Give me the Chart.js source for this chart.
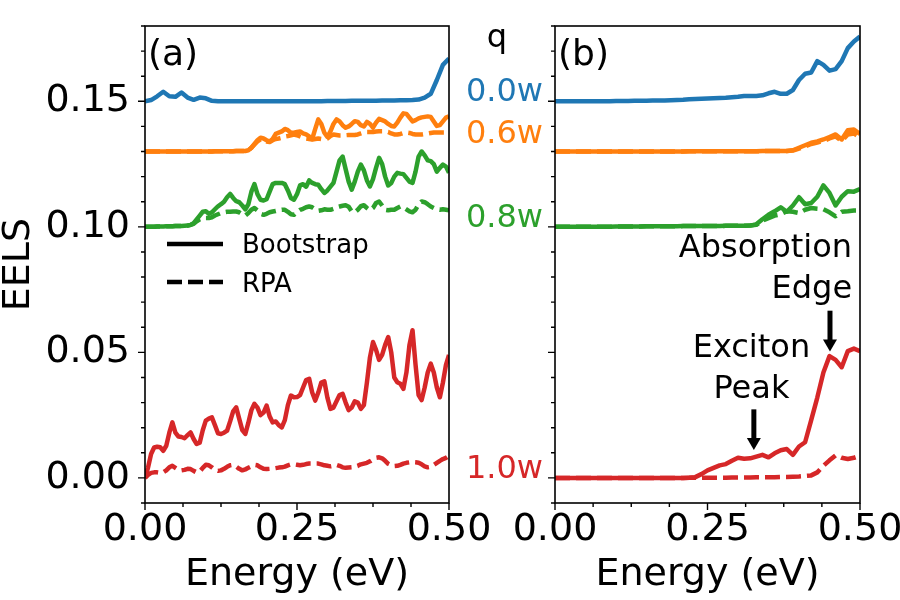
<!DOCTYPE html>
<html>
<head>
<meta charset="utf-8">
<script src="https://cdn.jsdelivr.net/npm/chart.js@4.4.1/dist/chart.umd.min.js"></script>
<style>
  body { margin: 0; background: #fff; }
  #boxA { position: absolute; left: 0; top: 0; }
  #boxB { position: absolute; left: 450px; top: 0; }
</style>
</head>
<body>
<div id="boxA"><canvas id="chartA" width="500" height="600"></canvas></div>
<div id="boxB"><canvas id="chartB" width="450" height="600"></canvas></div>
<script>
// energy grids (eV)
const energyFine = [
  0,0.005,0.01,0.015,0.02,0.025,0.03,0.035,0.04,0.045,
  0.05,0.055,0.06,0.065,0.07,0.075,0.08,0.085,0.09,0.095,
  0.1,0.105,0.11,0.115,0.12,0.125,0.13,0.135,0.14,0.145,
  0.15,0.155,0.16,0.165,0.17,0.175,0.18,0.185,0.19,0.195,
  0.2,0.205,0.21,0.215,0.22,0.225,0.23,0.235,0.24,0.245,
  0.25,0.255,0.26,0.265,0.27,0.275,0.28,0.285,0.29,0.295,
  0.3,0.305,0.31,0.315,0.32,0.325,0.33,0.335,0.34,0.345,
  0.35,0.355,0.36,0.365,0.37,0.375,0.38,0.385,0.39,0.395,
  0.4,0.405,0.41,0.415,0.42,0.425,0.43,0.435,0.44,0.445,
  0.45,0.455,0.46,0.465,0.47,0.475,0.48,0.485,0.49,0.495,
  0.5];
const energyCoarse = [
  0,0.01,0.02,0.03,0.04,0.05,0.06,0.07,0.08,0.09,
  0.1,0.11,0.12,0.13,0.14,0.15,0.16,0.17,0.18,0.19,
  0.2,0.21,0.22,0.23,0.24,0.25,0.26,0.27,0.28,0.29,
  0.3,0.31,0.32,0.33,0.34,0.35,0.36,0.37,0.38,0.39,
  0.4,0.41,0.42,0.43,0.44,0.45,0.46,0.47,0.48,0.49,
  0.5];

// panel (a): EELS with offsets, q = 0.0w .. 1.0w
const blueA = [
  0.1500,0.1505,0.1520,0.1538,0.1520,0.1518,0.1535,0.1515,0.1506,0.1515,
  0.1512,0.1502,0.1500,0.1500,0.1500,0.1500,0.1500,0.1500,0.1500,0.1500,
  0.1500,0.1500,0.1500,0.1500,0.1500,0.1500,0.1500,0.1500,0.1500,0.1500,
  0.1501,0.1501,0.1501,0.1501,0.1502,0.1502,0.1502,0.1502,0.1502,0.1503,
  0.1503,0.1503,0.1504,0.1504,0.1505,0.1507,0.1515,0.1530,0.1585,0.1645,
  0.1670];
const orangeBootA = [
  0.1300,0.1300,0.1300,0.1300,0.1300,0.1300,0.1300,0.1300,0.1300,0.1300,
  0.1300,0.1300,0.1300,0.1300,0.1300,0.1300,0.1300,0.1300,0.1300,0.1300,
  0.1300,0.1300,0.1300,0.1301,0.1301,0.1301,0.1301,0.1301,0.1301,0.1301,
  0.1302,0.1302,0.1302,0.1302,0.1305,0.1315,0.1330,0.1345,0.1355,0.1352,
  0.1345,0.1340,0.1350,0.1370,0.1375,0.1380,0.1390,0.1385,0.1375,0.1375,
  0.1378,0.1380,0.1372,0.1368,0.1360,0.1350,0.1390,0.1428,0.1410,0.1375,
  0.1358,0.1380,0.1410,0.1428,0.1420,0.1405,0.1395,0.1400,0.1410,0.1421,
  0.1418,0.1405,0.1400,0.1418,0.1410,0.1395,0.1415,0.1430,0.1425,0.1420,
  0.1410,0.1402,0.1400,0.1415,0.1435,0.1452,0.1450,0.1435,0.1420,0.1425,
  0.1432,0.1436,0.1438,0.1440,0.1438,0.1420,0.1402,0.1405,0.1420,0.1435,
  0.1440];
const orangeRpaA = [
  0.1300,0.1300,0.1300,0.1300,0.1300,0.1300,0.1300,0.1300,0.1300,0.1300,
  0.1300,0.1300,0.1300,0.1300,0.1300,0.1300,0.1300,0.1300,0.1300,0.1300,
  0.1300,0.1300,0.1300,0.1301,0.1301,0.1301,0.1301,0.1301,0.1301,0.1301,
  0.1302,0.1302,0.1302,0.1302,0.1305,0.1315,0.1328,0.1340,0.1348,0.1345,
  0.1340,0.1338,0.1345,0.1350,0.1352,0.1355,0.1360,0.1362,0.1365,0.1368,
  0.1365,0.1360,0.1355,0.1352,0.1350,0.1348,0.1350,0.1352,0.1350,0.1348,
  0.1352,0.1362,0.1368,0.1366,0.1364,0.1364,0.1365,0.1366,0.1366,0.1366,
  0.1368,0.1372,0.1376,0.1378,0.1378,0.1378,0.1380,0.1381,0.1381,0.1380,
  0.1378,0.1372,0.1368,0.1368,0.1370,0.1374,0.1376,0.1374,0.1370,0.1368,
  0.1368,0.1368,0.1370,0.1372,0.1374,0.1376,0.1376,0.1376,0.1376,0.1376,
  0.1376];
const greenBootA = [
  0.1000,0.1000,0.1000,0.1000,0.1001,0.1001,0.1001,0.1002,0.1002,0.1002,
  0.1003,0.1003,0.1003,0.1004,0.1005,0.1008,0.1015,0.1030,0.1045,0.1060,
  0.1062,0.1052,0.1058,0.1070,0.1082,0.1090,0.1100,0.1118,0.1131,0.1115,
  0.1102,0.1098,0.1085,0.1070,0.1090,0.1140,0.1170,0.1130,0.1108,0.1105,
  0.1110,0.1140,0.1170,0.1175,0.1175,0.1175,0.1170,0.1145,0.1115,0.1108,
  0.1130,0.1165,0.1170,0.1160,0.1185,0.1175,0.1170,0.1168,0.1150,0.1135,
  0.1145,0.1160,0.1175,0.1220,0.1265,0.1280,0.1230,0.1180,0.1148,0.1180,
  0.1220,0.1248,0.1225,0.1185,0.1161,0.1190,0.1235,0.1275,0.1250,0.1200,
  0.1165,0.1175,0.1200,0.1215,0.1212,0.1210,0.1195,0.1180,0.1175,0.1220,
  0.1280,0.1300,0.1285,0.1265,0.1262,0.1250,0.1220,0.1235,0.1248,0.1240,
  0.1215];
const greenRpaA = [
  0.1000,0.1000,0.1000,0.1000,0.1001,0.1001,0.1001,0.1002,0.1002,0.1002,
  0.1003,0.1003,0.1003,0.1004,0.1005,0.1008,0.1012,0.1022,0.1030,0.1035,
  0.1035,0.1035,0.1038,0.1045,0.1050,0.1055,0.1058,0.1060,0.1060,0.1061,
  0.1061,0.1058,0.1050,0.1045,0.1055,0.1068,0.1075,0.1065,0.1052,0.1048,
  0.1052,0.1058,0.1061,0.1063,0.1066,0.1068,0.1068,0.1060,0.1050,0.1048,
  0.1060,0.1068,0.1072,0.1078,0.1081,0.1078,0.1070,0.1064,0.1066,0.1070,
  0.1068,0.1068,0.1072,0.1078,0.1081,0.1084,0.1086,0.1080,0.1062,0.1058,
  0.1068,0.1082,0.1086,0.1075,0.1066,0.1075,0.1095,0.1101,0.1085,0.1068,
  0.1066,0.1068,0.1068,0.1075,0.1081,0.1078,0.1070,0.1062,0.1058,0.1068,
  0.1090,0.1101,0.1098,0.1090,0.1081,0.1075,0.1070,0.1068,0.1070,0.1068,
  0.1066];
const redBootA = [
  0.0000,0.0041,0.0095,0.0121,0.0124,0.0122,0.0108,0.0128,0.0180,0.0221,
  0.0180,0.0165,0.0163,0.0158,0.0170,0.0181,0.0155,0.0135,0.0140,0.0190,
  0.0228,0.0236,0.0241,0.0210,0.0178,0.0175,0.0180,0.0188,0.0225,0.0265,
  0.0281,0.0235,0.0190,0.0175,0.0220,0.0270,0.0295,0.0280,0.0250,0.0260,
  0.0288,0.0245,0.0221,0.0225,0.0210,0.0201,0.0230,0.0290,0.0328,0.0321,
  0.0322,0.0330,0.0360,0.0390,0.0395,0.0340,0.0308,0.0340,0.0380,0.0385,
  0.0320,0.0275,0.0280,0.0305,0.0330,0.0335,0.0300,0.0270,0.0280,0.0305,
  0.0300,0.0275,0.0290,0.0380,0.0480,0.0541,0.0510,0.0470,0.0490,0.0530,
  0.0561,0.0500,0.0400,0.0381,0.0375,0.0355,0.0420,0.0530,0.0588,0.0450,
  0.0330,0.0310,0.0360,0.0420,0.0455,0.0420,0.0360,0.0321,0.0380,0.0450,
  0.0490];
const redRpaA = [
  0.0000,0.0012,0.0020,0.0022,0.0022,0.0020,0.0022,0.0030,0.0042,0.0048,
  0.0040,0.0032,0.0030,0.0032,0.0036,0.0035,0.0028,0.0022,0.0025,0.0040,
  0.0052,0.0050,0.0042,0.0032,0.0028,0.0030,0.0036,0.0044,0.0050,0.0052,
  0.0045,0.0036,0.0030,0.0034,0.0040,0.0046,0.0052,0.0050,0.0042,0.0036,
  0.0035,0.0036,0.0037,0.0039,0.0041,0.0042,0.0045,0.0050,0.0054,0.0054,
  0.0052,0.0050,0.0052,0.0055,0.0057,0.0057,0.0057,0.0057,0.0054,0.0050,
  0.0048,0.0046,0.0048,0.0052,0.0048,0.0042,0.0040,0.0041,0.0042,0.0044,
  0.0048,0.0054,0.0057,0.0060,0.0066,0.0074,0.0080,0.0082,0.0078,0.0068,
  0.0056,0.0050,0.0047,0.0048,0.0052,0.0057,0.0060,0.0062,0.0063,0.0062,
  0.0060,0.0054,0.0046,0.0042,0.0044,0.0052,0.0060,0.0068,0.0075,0.0080,
  0.0088];

// panel (b)
const blueB = [
  0.1500,0.1500,0.1500,0.1500,0.1500,0.1500,0.1500,0.1500,0.1500,0.1500,
  0.1501,0.1501,0.1501,0.1502,0.1502,0.1502,0.1503,0.1503,0.1503,0.1504,
  0.1505,0.1506,0.1508,0.1509,0.1510,0.1511,0.1512,0.1513,0.1514,0.1516,
  0.1518,0.1521,0.1521,0.1521,0.1524,0.1532,0.1538,0.1530,0.1530,0.1545,
  0.1585,0.1610,0.1615,0.1660,0.1645,0.1622,0.1628,0.1660,0.1712,0.1738,
  0.1758];
const orangeBootB = [
  0.1300,0.1300,0.1300,0.1300,0.1300,0.1300,0.1300,0.1300,0.1300,0.1300,
  0.1300,0.1300,0.1300,0.1300,0.1300,0.1300,0.1300,0.1300,0.1300,0.1300,
  0.1300,0.1300,0.1301,0.1301,0.1301,0.1301,0.1301,0.1301,0.1301,0.1301,
  0.1301,0.1301,0.1301,0.1301,0.1302,0.1302,0.1302,0.1302,0.1302,0.1305,
  0.1315,0.1325,0.1335,0.1340,0.1348,0.1358,0.1368,0.1348,0.1385,0.1388,
  0.1370];
const orangeRpaB = [
  0.1300,0.1300,0.1300,0.1300,0.1300,0.1300,0.1300,0.1300,0.1300,0.1300,
  0.1300,0.1300,0.1300,0.1300,0.1300,0.1300,0.1300,0.1300,0.1300,0.1300,
  0.1300,0.1300,0.1301,0.1301,0.1301,0.1301,0.1301,0.1301,0.1301,0.1301,
  0.1301,0.1301,0.1301,0.1301,0.1302,0.1302,0.1302,0.1302,0.1302,0.1304,
  0.1312,0.1320,0.1330,0.1336,0.1342,0.1352,0.1360,0.1342,0.1368,0.1372,
  0.1356];
const greenBootB = [
  0.1000,0.1000,0.1000,0.1000,0.1000,0.1000,0.1000,0.1000,0.1000,0.1000,
  0.1001,0.1001,0.1001,0.1001,0.1001,0.1002,0.1002,0.1002,0.1002,0.1002,
  0.1002,0.1003,0.1003,0.1003,0.1003,0.1003,0.1003,0.1003,0.1004,0.1004,
  0.1004,0.1004,0.1005,0.1010,0.1030,0.1048,0.1062,0.1078,0.1060,0.1085,
  0.1118,0.1090,0.1095,0.1120,0.1165,0.1135,0.1085,0.1120,0.1142,0.1140,
  0.1150];
const greenRpaB = [
  0.1000,0.1000,0.1000,0.1000,0.1000,0.1000,0.1000,0.1000,0.1000,0.1000,
  0.1001,0.1001,0.1001,0.1001,0.1001,0.1002,0.1002,0.1002,0.1002,0.1002,
  0.1002,0.1003,0.1003,0.1003,0.1003,0.1003,0.1003,0.1003,0.1004,0.1004,
  0.1004,0.1004,0.1005,0.1008,0.1025,0.1035,0.1045,0.1050,0.1062,0.1060,
  0.1055,0.1068,0.1075,0.1072,0.1070,0.1058,0.1042,0.1060,0.1062,0.1065,
  0.1065];
const redBootB = [
  0.0000,0.0000,0.0000,0.0000,0.0000,0.0000,0.0000,0.0000,0.0000,0.0000,
  0.0000,0.0000,0.0000,0.0000,0.0000,0.0000,0.0000,0.0000,0.0000,0.0000,
  0.0000,0.0000,0.0001,0.0003,0.0015,0.0030,0.0040,0.0050,0.0055,0.0068,
  0.0080,0.0076,0.0078,0.0085,0.0092,0.0082,0.0098,0.0110,0.0115,0.0092,
  0.0125,0.0142,0.0230,0.0320,0.0420,0.0485,0.0470,0.0441,0.0505,0.0515,
  0.0505];
const redRpaB = [
  0.0000,0.0000,0.0000,0.0000,0.0000,0.0000,0.0000,0.0000,0.0000,0.0000,
  0.0000,0.0000,0.0000,0.0000,0.0000,0.0000,0.0000,0.0000,0.0000,0.0000,
  0.0000,0.0000,0.0001,0.0001,0.0001,0.0001,0.0001,0.0001,0.0001,0.0002,
  0.0002,0.0002,0.0002,0.0003,0.0003,0.0003,0.0003,0.0004,0.0004,0.0005,
  0.0006,0.0008,0.0010,0.0022,0.0048,0.0070,0.0090,0.0080,0.0075,0.0080,
  0.0088];

// q labels and where they sit on the EELS axis
const qLabels = ['0.0w', '0.6w', '0.8w', '1.0w'];
const qAnchors = [0.15, 0.1335, 0.10, 0.0];

const FONT = 'DejaVu Sans';
const colors = ['#1f77b4', '#ff7f0e', '#2ca02c', '#d62728'];

function isMult(v, s) {
  return Math.abs(v / s - Math.round(v / s)) < 1e-6;
}

function line(xs, ys, color, dashed) {
  return {
    data: xs.map((x, i) => ({ x: x, y: ys[i] })),
    borderColor: color,
    borderWidth: 4.5,
    borderDash: dashed ? [15, 6] : [],
    borderJoinStyle: 'round',
    pointRadius: 0,
    tension: 0,
    fill: false
  };
}

// box around the axes + outward major/minor ticks
const frame = {
  id: 'frame',
  afterDraw(chart) {
    const { ctx, chartArea: { left, right, top, bottom }, scales: { x, y } } = chart;
    ctx.save();
    ctx.strokeStyle = '#000';
    ctx.lineWidth = 1.6;
    ctx.strokeRect(left, top, right - left, bottom - top);
    ctx.lineWidth = 1.4;
    ctx.beginPath();
    y.ticks.forEach(t => {
      const p = y.getPixelForValue(t.value);
      const len = isMult(t.value, 0.05) ? 7 : 4;
      ctx.moveTo(left - len, p);
      ctx.lineTo(left, p);
    });
    x.ticks.forEach(t => {
      const p = x.getPixelForValue(t.value);
      const len = isMult(t.value, 0.25) ? 7 : 4;
      ctx.moveTo(p, bottom);
      ctx.lineTo(p, bottom + len);
    });
    ctx.stroke();
    ctx.restore();
  }
};

const textA = {
  id: 'textA',
  afterDraw(chart) {
    const { ctx, chartArea: { left, top } } = chart;
    ctx.save();
    ctx.fillStyle = '#000';
    ctx.font = '36px "' + FONT + '"';
    ctx.textBaseline = 'alphabetic';
    ctx.fillText('(a)', left + 3, top + 39);
    // legend
    ctx.strokeStyle = '#000';
    ctx.lineWidth = 4.5;
    ctx.beginPath();
    ctx.moveTo(left + 22, top + 218);
    ctx.lineTo(left + 78, top + 218);
    ctx.stroke();
    ctx.setLineDash([15, 6]);
    ctx.beginPath();
    ctx.moveTo(left + 22, top + 256);
    ctx.lineTo(left + 78, top + 256);
    ctx.stroke();
    ctx.font = '26px "' + FONT + '"';
    ctx.fillText('Bootstrap', left + 97, top + 227);
    ctx.fillText('RPA', left + 97, top + 266);
    ctx.restore();
  }
};

function arrow(ctx, x, y0, y1) {
  const head = 12;
  ctx.lineWidth = 5;
  ctx.beginPath();
  ctx.moveTo(x, y0);
  ctx.lineTo(x, y1 - head + 1);
  ctx.stroke();
  ctx.beginPath();
  ctx.moveTo(x - 7, y1 - head);
  ctx.lineTo(x + 7, y1 - head);
  ctx.lineTo(x, y1);
  ctx.closePath();
  ctx.fill();
}

const textB = {
  id: 'textB',
  afterDraw(chart) {
    const { ctx, chartArea: { left, top }, scales: { x, y } } = chart;
    ctx.save();
    ctx.fillStyle = '#000';
    ctx.strokeStyle = '#000';
    ctx.font = '36px "' + FONT + '"';
    ctx.textBaseline = 'alphabetic';
    ctx.fillText('(b)', left + 3, top + 39);

    // q column between the panels
    ctx.font = '32px "' + FONT + '"';
    ctx.textAlign = 'center';
    ctx.fillText('q', left - 58, top + 21);
    ctx.textAlign = 'right';
    qLabels.forEach((q, i) => {
      ctx.fillStyle = colors[i];
      ctx.fillText(q, left - 12, y.getPixelForValue(qAnchors[i]));
    });

    // annotations
    ctx.fillStyle = '#000';
    ctx.textAlign = 'right';
    ctx.fillText('Absorption', x.getPixelForValue(0.487), y.getPixelForValue(0.0881));
    ctx.fillText('Edge', x.getPixelForValue(0.487), y.getPixelForValue(0.0715));
    ctx.textAlign = 'center';
    ctx.fillText('Exciton', x.getPixelForValue(0.322), y.getPixelForValue(0.0483));
    ctx.fillText('Peak', x.getPixelForValue(0.322), y.getPixelForValue(0.0317));
    arrow(ctx, x.getPixelForValue(0.4508), y.getPixelForValue(0.0666), y.getPixelForValue(0.0503));
    arrow(ctx, x.getPixelForValue(0.326), y.getPixelForValue(0.0273), y.getPixelForValue(0.0111));
    ctx.restore();
  }
};

function options(yWidth, yTitle, padRight) {
  return {
    responsive: false,
    animation: false,
    events: [],
    layout: { padding: { left: 0, right: padRight, top: 26, bottom: 0 } },
    plugins: { legend: { display: false }, tooltip: { enabled: false } },
    scales: {
      x: {
        type: 'linear',
        min: 0,
        max: 0.5,
        afterFit(scale) {
          scale.height = 97;
          scale.paddingLeft = 0;
          scale.paddingRight = 0;
        },
        ticks: {
          stepSize: 0.0625,
          autoSkip: false,
          maxRotation: 0,
          padding: 1,
          color: '#000',
          font: { family: FONT, size: 38, lineHeight: 1 },
          callback: v => isMult(v, 0.25) ? v.toFixed(2) : ''
        },
        grid: { drawOnChartArea: false, drawTicks: true, tickLength: 7, tickColor: 'rgba(0,0,0,0)', color: 'rgba(0,0,0,0)' },
        border: { display: false },
        title: {
          display: true,
          text: 'Energy (eV)',
          color: '#000',
          font: { family: FONT, size: 38, lineHeight: 1 },
          padding: { top: 0, bottom: 6 }
        }
      },
      y: {
        type: 'linear',
        min: -0.01,
        max: 0.18,
        afterFit(scale) {
          scale.width = yWidth;
          scale.paddingTop = 0;
          scale.paddingBottom = 0;
        },
        ticks: {
          stepSize: 0.01,
          autoSkip: false,
          padding: 8,
          color: '#000',
          font: { family: FONT, size: 38, lineHeight: 1 },
          callback: v => (yTitle && isMult(v, 0.05)) ? v.toFixed(2) : ''
        },
        grid: { drawOnChartArea: false, drawTicks: true, tickLength: 7, tickColor: 'rgba(0,0,0,0)', color: 'rgba(0,0,0,0)' },
        border: { display: false },
        title: {
          display: yTitle,
          text: 'EELS',
          color: '#000',
          font: { family: FONT, size: 38, lineHeight: 1 },
          padding: { top: 0, bottom: 0 }
        }
      }
    }
  };
}

new Chart(document.getElementById('chartA'), {
  type: 'line',
  data: {
    datasets: [
      line(energyCoarse, blueA, colors[0], false),
      line(energyFine, orangeBootA, colors[1], false),
      line(energyFine, orangeRpaA, colors[1], true),
      line(energyFine, greenBootA, colors[2], false),
      line(energyFine, greenRpaA, colors[2], true),
      line(energyFine, redBootA, colors[3], false),
      line(energyFine, redRpaA, colors[3], true)
    ]
  },
  options: options(145, true, 51),
  plugins: [frame, textA]
});

new Chart(document.getElementById('chartB'), {
  type: 'line',
  data: {
    datasets: [
      line(energyCoarse, blueB, colors[0], false),
      line(energyCoarse, orangeBootB, colors[1], false),
      line(energyCoarse, orangeRpaB, colors[1], true),
      line(energyCoarse, greenBootB, colors[2], false),
      line(energyCoarse, greenRpaB, colors[2], true),
      line(energyCoarse, redBootB, colors[3], false),
      line(energyCoarse, redRpaB, colors[3], true)
    ]
  },
  options: options(105, false, 40),
  plugins: [frame, textB]
});
</script>
</body>
</html>
